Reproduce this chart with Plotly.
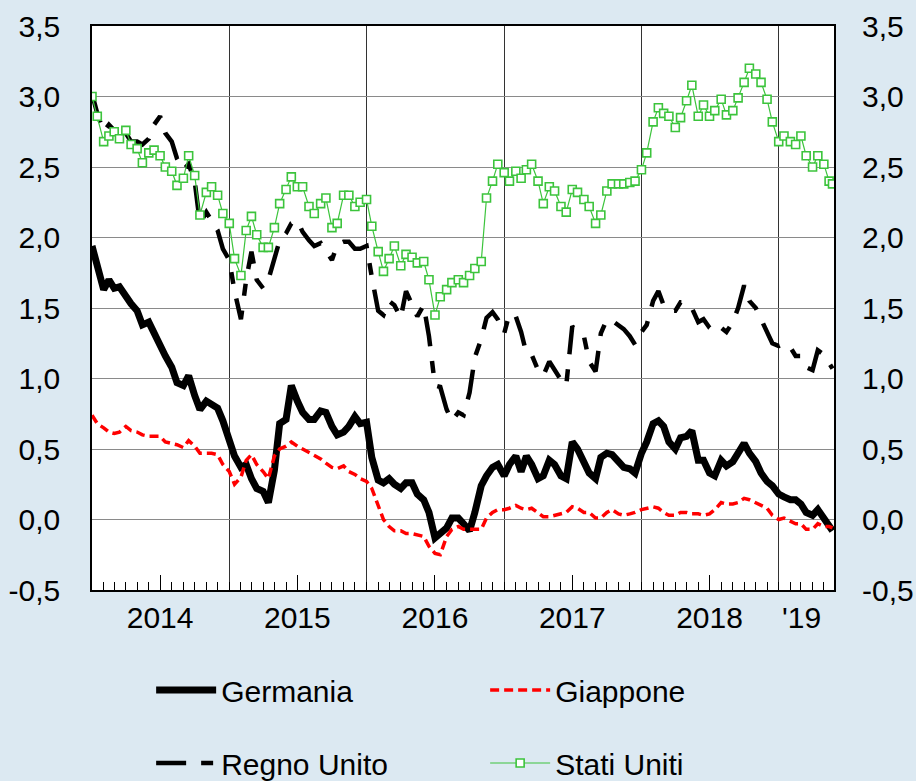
import plotly.graph_objects as go

# ---------------- data (semi-monthly readings: 1st and 15th of each month) ----------------
months = [(y, m) for y in range(2014, 2020) for m in range(1, 13) if not (y == 2019 and m > 5)]
dates = []
for y, m in months:
    dates.append(f"{y}-{m:02d}-01")
    dates.append(f"{y}-{m:02d}-15")
dates.append("2019-05-24")

germania = [
    1.94, 1.78, 1.63, 1.70, 1.64, 1.65, 1.58, 1.53, 1.48, 1.38, 1.40, 1.32,
    1.22, 1.16, 1.08, 0.97, 0.95, 1.02, 0.88, 0.78, 0.84, 0.81, 0.79, 0.70,
    0.55, 0.45, 0.37, 0.39, 0.29, 0.22, 0.20, 0.12, 0.35, 0.68, 0.71, 0.95,
    0.84, 0.76, 0.71, 0.71, 0.77, 0.76, 0.66, 0.60, 0.62, 0.66, 0.73, 0.68,
    0.69, 0.44, 0.28, 0.26, 0.29, 0.25, 0.22, 0.26, 0.26, 0.18, 0.14, 0.05,
    -0.13, -0.10, -0.06, 0.01, 0.01, -0.03, -0.08, 0.05, 0.24, 0.31, 0.37, 0.39,
    0.31, 0.39, 0.45, 0.34, 0.45, 0.39, 0.29, 0.31, 0.42, 0.39, 0.31, 0.29,
    0.55, 0.50, 0.42, 0.33, 0.29, 0.44, 0.47, 0.46, 0.41, 0.37, 0.36, 0.33,
    0.47, 0.55, 0.68, 0.70, 0.66, 0.55, 0.50, 0.58, 0.59, 0.63, 0.42, 0.42,
    0.33, 0.31, 0.42, 0.38, 0.41, 0.47, 0.54, 0.47, 0.41, 0.33, 0.27, 0.24,
    0.18, 0.16, 0.14, 0.14, 0.11, 0.05, 0.03, 0.07, 0.01, -0.05, -0.08,
]

giappone = [
    0.74, 0.68, 0.65, 0.62, 0.61, 0.62, 0.66, 0.63, 0.62, 0.60, 0.59, 0.59,
    0.59, 0.55, 0.54, 0.53, 0.51, 0.56, 0.52, 0.47, 0.47, 0.47, 0.46, 0.39,
    0.34, 0.25, 0.30, 0.42, 0.46, 0.39, 0.34, 0.29, 0.45, 0.50, 0.52, 0.55,
    0.52, 0.50, 0.48, 0.46, 0.43, 0.40, 0.37, 0.36, 0.38, 0.34, 0.32, 0.29,
    0.27, 0.22, 0.10, 0.00, -0.05, -0.08, -0.08, -0.10, -0.10, -0.11, -0.12, -0.19,
    -0.24, -0.25, -0.12, -0.07, -0.05, -0.07, -0.07, -0.07, -0.07, 0.01, 0.05, 0.07,
    0.07, 0.08, 0.10, 0.08, 0.07, 0.08, 0.05, 0.02, 0.02, 0.03, 0.04, 0.05,
    0.09, 0.08, 0.05, 0.05, 0.01, 0.01, 0.05, 0.07, 0.04, 0.03, 0.04, 0.05,
    0.07, 0.08, 0.09, 0.08, 0.05, 0.03, 0.03, 0.05, 0.05, 0.04, 0.04, 0.03,
    0.04, 0.07, 0.12, 0.11, 0.11, 0.12, 0.15, 0.14, 0.12, 0.10, 0.08, 0.03,
    0.00, 0.01, -0.01, -0.03, -0.03, -0.07, -0.07, -0.03, -0.05, -0.05, -0.06,
]

regno_unito = [
    3.02, 2.88, 2.75, 2.80, 2.76, 2.72, 2.74, 2.68, 2.68, 2.66, 2.70, 2.80,
    2.86, 2.74, 2.68, 2.56, 2.48, 2.52, 2.40, 2.10, 2.18, 2.12, 2.05, 1.92,
    1.84, 1.62, 1.42, 1.70, 1.90, 1.70, 1.64, 1.70, 1.86, 1.98, 2.03, 2.10,
    2.12, 2.04, 1.98, 1.94, 1.96, 1.90, 1.84, 1.95, 1.97, 1.97, 1.92, 1.92,
    1.94, 1.72, 1.48, 1.45, 1.55, 1.52, 1.43, 1.62, 1.53, 1.44, 1.52, 1.30,
    0.95, 0.94, 0.78, 0.70, 0.76, 0.74, 0.90, 1.15, 1.28, 1.43, 1.47, 1.42,
    1.32, 1.46, 1.44, 1.33, 1.18, 1.17, 1.06, 1.02, 1.12, 1.06, 0.99, 0.95,
    1.37, 1.33, 1.30, 1.12, 1.05, 1.32, 1.42, 1.41, 1.38, 1.35, 1.30, 1.24,
    1.33, 1.38, 1.55, 1.62, 1.52, 1.48, 1.48, 1.54, 1.54, 1.50, 1.40, 1.42,
    1.36, 1.33, 1.36, 1.33, 1.40, 1.50, 1.66, 1.55, 1.50, 1.42, 1.32, 1.25,
    1.23, 1.25, 1.22, 1.16, 1.16, 1.08, 1.06, 1.20, 1.17, 1.10, 1.07,
]

stati_uniti = [
    3.00, 2.86, 2.68, 2.72, 2.75, 2.70, 2.76, 2.66, 2.63, 2.53, 2.60, 2.62,
    2.58, 2.50, 2.47, 2.37, 2.42, 2.58, 2.44, 2.16, 2.32, 2.36, 2.30, 2.17,
    2.10, 1.85, 1.73, 2.05, 2.15, 2.02, 1.93, 1.93, 2.07, 2.24, 2.34, 2.43,
    2.36, 2.36, 2.22, 2.17, 2.24, 2.28, 2.07, 2.10, 2.30, 2.30, 2.22, 2.25,
    2.27, 2.08, 1.90, 1.76, 1.85, 1.94, 1.80, 1.88, 1.86, 1.82, 1.83, 1.70,
    1.45, 1.58, 1.63, 1.68, 1.70, 1.68, 1.73, 1.78, 1.83, 2.28, 2.40, 2.52,
    2.46, 2.40, 2.47, 2.42, 2.48, 2.52, 2.40, 2.24, 2.36, 2.33, 2.22, 2.18,
    2.34, 2.32, 2.27, 2.22, 2.10, 2.16, 2.33, 2.38, 2.38, 2.38, 2.39, 2.40,
    2.48, 2.60, 2.82, 2.92, 2.88, 2.86, 2.78, 2.85, 2.97, 3.08, 2.86, 2.94,
    2.86, 2.90, 2.98, 2.87, 2.90, 2.99, 3.10, 3.20, 3.16, 3.10, 2.98, 2.82,
    2.68, 2.72, 2.68, 2.66, 2.72, 2.58, 2.50, 2.58, 2.52, 2.40, 2.38,
]

year_label_pos = ["2014-07-01", "2015-07-01", "2016-07-01", "2017-07-01", "2018-07-01", "2019-03-03"]
year_labels = ["2014", "2015", "2016", "2017", "2018", "'19"]
midyear_ticks = ["2014-07-01", "2015-07-01", "2016-07-01", "2017-07-01", "2018-07-01"]
year_bounds = ["2015-01-01", "2016-01-01", "2017-01-01", "2018-01-01", "2019-01-01"]
month_ticks = [f"{y}-{m:02d}-01" for y, m in months][1:]
y_ticks = [-0.5, 0.0, 0.5, 1.0, 1.5, 2.0, 2.5, 3.0, 3.5]
y_ticktext = [f"{v:.1f}".replace(".", ",") for v in y_ticks]
x_range = ["2014-01-01", "2019-05-28"]

FONT = "Liberation Sans, Arial, Helvetica, sans-serif"
GREEN = "#3cc43c"

fig = go.Figure()
fig.add_trace(go.Scatter(x=dates, y=germania, name="Germania", mode="lines",
                         line=dict(color="black", width=7), legend="legend"))
fig.add_trace(go.Scatter(x=dates, y=giappone, name="Giappone", mode="lines",
                         line=dict(color="#ff0000", width=3.5, dash="9px,5px"), legend="legend"))
fig.add_trace(go.Scatter(x=dates, y=regno_unito, name="Regno Unito", mode="lines",
                         line=dict(color="black", width=4.5, dash="30px,15px,12px,15px"), legend="legend2"))
fig.add_trace(go.Scatter(x=dates, y=stati_uniti, name="Stati Uniti", mode="lines+markers",
                         line=dict(color=GREEN, width=1.2),
                         marker=dict(symbol="square", size=8, color="white",
                                     line=dict(color=GREEN, width=1.6)),
                         legend="legend2"))
# helper trace that carries the overlay axes (right labels, year grid, mid-year ticks)
fig.add_trace(go.Scatter(x=[dates[0]], y=[None], xaxis="x2", yaxis="y2",
                         mode="lines", showlegend=False, hoverinfo="skip"))

legend_common = dict(orientation="h", xref="container", yref="container",
                     x=0.165, xanchor="left", yanchor="middle",
                     bgcolor="rgba(0,0,0,0)", borderwidth=0, font=dict(size=30),
                     itemwidth=60, entrywidth=259, entrywidthmode="pixels",
                     traceorder="normal")

fig.update_layout(
    width=916, height=781,
    paper_bgcolor="#dce9f2", plot_bgcolor="white",
    margin=dict(l=92, r=82, t=26, b=191),
    font=dict(family=FONT, size=30, color="black"),
    showlegend=True,
    xaxis=dict(
        type="date", range=x_range, automargin=False,
        tickmode="array", tickvals=year_label_pos, ticktext=year_labels,
        ticks="", showgrid=False, zeroline=False,
        showline=True, linecolor="black", linewidth=1.5, mirror=True,
        tickfont=dict(size=30), ticklabelstandoff=0,
        minor=dict(tickmode="array", tickvals=month_ticks, ticks="inside",
                   ticklen=8, tickcolor="black", tickwidth=1, showgrid=False),
    ),
    xaxis2=dict(
        type="date", range=x_range, overlaying="x", anchor="y", side="bottom",
        automargin=False,
        tickmode="array", tickvals=midyear_ticks, ticks="inside", ticklen=15,
        tickcolor="black", tickwidth=1, showticklabels=False, showgrid=False,
        zeroline=False, showline=False,
        minor=dict(tickmode="array", tickvals=year_bounds, ticks="",
                   showgrid=True, gridcolor="#333333", gridwidth=1),
    ),
    yaxis=dict(
        range=[-0.5, 3.5], automargin=False, tickmode="array", tickvals=y_ticks,
        ticktext=y_ticktext,
        showgrid=True, gridcolor="#8a8a8a", gridwidth=1, zeroline=False,
        showline=True, linecolor="black", linewidth=1.5, mirror=True,
        ticks="", ticklabelstandoff=24, tickfont=dict(size=30),
    ),
    yaxis2=dict(
        range=[-0.5, 3.5], overlaying="y", side="right", anchor="x2", automargin=False,
        tickmode="array", tickvals=y_ticks, ticktext=y_ticktext,
        showgrid=False, zeroline=False, showline=False, ticks="",
        ticklabelstandoff=27, tickfont=dict(size=30),
    ),
    legend=dict(legend_common, y=1 - 690 / 781),
    legend2=dict(legend_common, y=1 - 763 / 781),
)

fig.write_html("out.html", config={"displayModeBar": False},
               post_script="document.body.style.margin='0px';")
